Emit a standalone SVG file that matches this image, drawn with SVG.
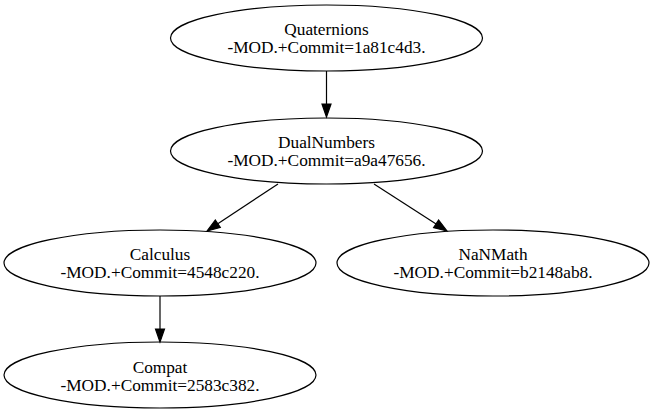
<svg xmlns="http://www.w3.org/2000/svg" width="654" height="415" viewBox="0 0 654 415">
<style>
.node ellipse{fill:none;stroke:#000;stroke-width:1.2}
.node text{font-family:"Liberation Serif","Times New Roman",serif;font-size:17.3px;fill:#000;text-anchor:middle}
.edge line{stroke:#000;stroke-width:1.2}
.edge polygon{fill:#000;stroke:#000;stroke-width:1.2}
</style>
<rect width="654" height="415" fill="#fff"/>
<g id="Quaternions" class="node">
<ellipse cx="326.5" cy="38" rx="156" ry="33"/>
<text x="326.5" y="35">Quaternions</text>
<text x="326.5" y="53">-MOD.+Commit=1a81c4d3.</text>
</g>
<g id="DualNumbers" class="node">
<ellipse cx="326.5" cy="151" rx="156" ry="33"/>
<text x="326.5" y="148">DualNumbers</text>
<text x="326.5" y="166">-MOD.+Commit=a9a47656.</text>
</g>
<g id="Calculus" class="node">
<ellipse cx="160" cy="263" rx="156" ry="33"/>
<text x="160" y="260">Calculus</text>
<text x="160" y="278">-MOD.+Commit=4548c220.</text>
</g>
<g id="NaNMath" class="node">
<ellipse cx="493" cy="263" rx="156" ry="33"/>
<text x="493" y="260">NaNMath</text>
<text x="493" y="278">-MOD.+Commit=b2148ab8.</text>
</g>
<g id="Compat" class="node">
<ellipse cx="160" cy="375" rx="156" ry="33"/>
<text x="160" y="372.5">Compat</text>
<text x="160" y="390.5">-MOD.+Commit=2583c382.</text>
</g>
<g id="connectors" class="edge">
<line x1="326.5" y1="71" x2="326.5" y2="104"/>
<polygon points="326.5,117 322,104 331,104"/>
<line x1="278" y1="184" x2="217.8" y2="223.7"/>
<polygon points="207,231 215.3,220 220.3,227.4"/>
<line x1="374" y1="184" x2="436.1" y2="223.9"/>
<polygon points="447,231 433.6,227.7 438.6,220.1"/>
<line x1="160" y1="296" x2="160" y2="329"/>
<polygon points="160,342 155.5,329 164.5,329"/>
</g>
</svg>
